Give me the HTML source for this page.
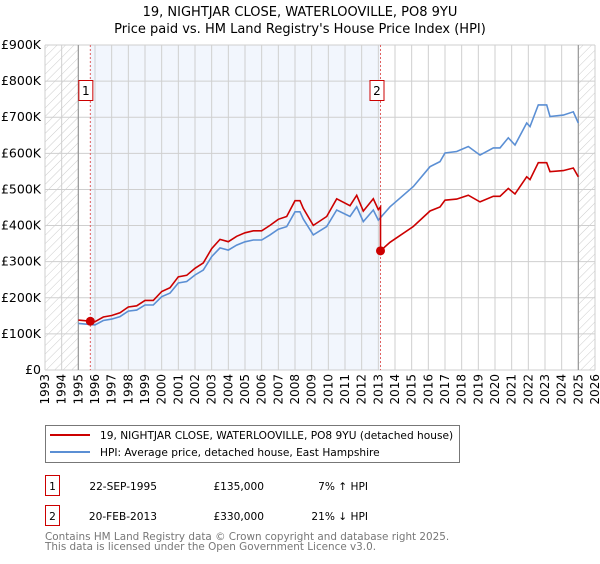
<!DOCTYPE html>
<html><head><meta charset="utf-8"><style>
body{margin:0;background:#fff;font-family:"DejaVu Sans","Liberation Sans",sans-serif;}
svg text{font-family:"DejaVu Sans","Liberation Sans",sans-serif;}
</style></head><body>
<svg id="chart" width="600" height="560" xmlns="http://www.w3.org/2000/svg">
<defs><pattern id="hatch" width="6" height="6" patternUnits="userSpaceOnUse" patternTransform="rotate(45)"><line x1="0" y1="0" x2="0" y2="6" stroke="#ccc" stroke-width="1"/></pattern></defs>
<text x="300" y="16" text-anchor="middle" font-size="13">19, NIGHTJAR CLOSE, WATERLOOVILLE, PO8 9YU</text>
<text x="300" y="33" text-anchor="middle" font-size="13">Price paid vs. HM Land Registry's House Price Index (HPI)</text>
<g id="plot"></g>
<g>
<rect x="45.5" y="425.5" width="414" height="37" fill="#fff" stroke="#777"/>
<line x1="50" y1="435" x2="90" y2="435" stroke="#cc0000" stroke-width="2"/>
<text x="100" y="439" font-size="10.6">19, NIGHTJAR CLOSE, WATERLOOVILLE, PO8 9YU (detached house)</text>
<line x1="50" y1="452" x2="90" y2="452" stroke="#5b8fd4" stroke-width="2"/>
<text x="100" y="456" font-size="10.6">HPI: Average price, detached house, East Hampshire</text>
</g>
<g font-size="10.6">
<rect x="45.5" y="475.5" width="14" height="20" fill="#fff" stroke="#cc0000"/>
<text x="52.5" y="490" text-anchor="middle">1</text>
<text x="157" y="490" text-anchor="end">22-SEP-1995</text>
<text x="264" y="490" text-anchor="end">£135,000</text>
<text x="368" y="490" text-anchor="end">7% ↑ HPI</text>
<rect x="45.5" y="505.5" width="14" height="20" fill="#fff" stroke="#cc0000"/>
<text x="52.5" y="520" text-anchor="middle">2</text>
<text x="157" y="520" text-anchor="end">20-FEB-2013</text>
<text x="264" y="520" text-anchor="end">£330,000</text>
<text x="368" y="520" text-anchor="end">21% ↓ HPI</text>
</g>
<text x="45" y="540" font-size="10.4" fill="#777">Contains HM Land Registry data © Crown copyright and database right 2025.</text>
<text x="45" y="550" font-size="10.4" fill="#777">This data is licensed under the Open Government Licence v3.0.</text>
</svg>
<script>
const hpiYears=[1995.0,1996.0,1996.5,1997,1997.5,1998,1998.5,1999,1999.5,2000,2000.5,2001,2001.5,2002,2002.5,2003,2003.5,2004,2004.5,2005,2005.5,2006,2006.5,2007,2007.5,2008,2008.3,2008.5,2009.1,2009.9,2010.5,2011.3,2011.7,2012.1,2012.7,2013.0,2013.7,2015.1,2016.1,2016.7,2017.0,2017.7,2018.4,2019.1,2019.9,2020.3,2020.8,2021.2,2021.9,2022.1,2022.6,2023.1,2023.3,2024.1,2024.7,2025.0];
const hpiValues=[129,125,137,141,148,163,166,180,180,203,213,241,245,263,277,314,338,332,346,355,360,360,374,390,397,438,438,418,374,397,443,425,452,411,443,415,452,508,563,577,601,605,619,595,615,615,643,623,684,674,734,734,702,706,715,684];
const saleYears=[1995.72,2013.13];
const salePrices=[135,330];
const saleLabels=["1","2"];
const yTicks=[0,100,200,300,400,500,600,700,800,900];
const yTickLabels=["£0","£100K","£200K","£300K","£400K","£500K","£600K","£700K","£800K","£900K"];
const xStart=1993,xEnd=2026;
const L=45,R=595,T=45,B=370;
const x=t=>L+(t-xStart)/(xEnd-xStart)*(R-L);
const y=v=>B-v/900*(B-T);
const NS="http://www.w3.org/2000/svg";
const g=document.getElementById('plot');
function mk(tag,attrs){const e=document.createElementNS(NS,tag);for(const k in attrs)e.setAttribute(k,attrs[k]);g.appendChild(e);return e;}
function hpiAt(t){for(let i=0;i<hpiYears.length-1;i++){if(t>=hpiYears[i]&&t<=hpiYears[i+1]){const f=(t-hpiYears[i])/(hpiYears[i+1]-hpiYears[i]);return hpiValues[i]+f*(hpiValues[i+1]-hpiValues[i]);}}return hpiValues[hpiValues.length-1];}
let e;
e=mk('rect',{x:L,y:T,width:R-L,height:B-T,fill:'#fff'});


e=mk('rect',{x:x(saleYears[0]),y:T,width:x(saleYears[1])-x(saleYears[0]),height:B-T,fill:'#f2f6fd'});


e=mk('rect',{x:L,y:T,width:x(1995)-L,height:B-T,fill:'url(#hatch)'});


e=mk('rect',{x:x(2025),y:T,width:R-x(2025),height:B-T,fill:'url(#hatch)'});


for(let yr=xStart;yr<=xEnd;yr++){
 e=mk('line',{x1:x(yr),x2:x(yr),y1:T,y2:B,stroke:'#cfcfcf','stroke-width':1});
 
 
 e=mk('text',{x:0,y:0,'font-size':12,'text-anchor':'end',transform:`translate(${x(yr)+4},${B+4}) rotate(-90)`});
 e.textContent=yr;
 
 
}
yTicks.forEach((v,i)=>{
 e=mk('line',{x1:L,x2:R,y1:y(v),y2:y(v),stroke:'#cfcfcf','stroke-width':1});
 
 
 e=mk('text',{x:L-4,y:y(v)+4,'font-size':12.5,'text-anchor':'end'});
 e.textContent=yTickLabels[i];
 
 
});
[1995,2025].forEach(t=>{e=mk('line',{x1:x(t),x2:x(t),y1:T,y2:B,stroke:'#999','stroke-width':1.2});
 
 });
saleYears.forEach((t,i)=>{
 e=mk('line',{x1:x(t),x2:x(t),y1:T,y2:B,stroke:'#e06060','stroke-width':1,'stroke-dasharray':'2,2'});
 
 
});
let d=hpiValues.map((v,i)=>(i?'L':'M')+x(hpiYears[i]).toFixed(1)+','+y(v).toFixed(1)).join('');
e=mk('path',{d:d,fill:'none',stroke:'#5b8fd4','stroke-width':1.6});


const r1=salePrices[0]/hpiAt(saleYears[0]), r2=salePrices[1]/hpiAt(saleYears[1]);
let pts=[];
hpiYears.forEach((t,i)=>{if(t<saleYears[1])pts.push([t,hpiValues[i]*r1]);});
pts.push([saleYears[1],hpiAt(saleYears[1])*r1]);
pts.push([saleYears[1],salePrices[1]]);
hpiYears.forEach((t,i)=>{if(t>saleYears[1])pts.push([t,hpiValues[i]*r2]);});
d=pts.map((p,i)=>(i?'L':'M')+x(p[0]).toFixed(1)+','+y(p[1]).toFixed(1)).join('');
e=mk('path',{d:d,fill:'none',stroke:'#cc0000','stroke-width':1.6});


saleYears.forEach((t,i)=>{
 e=mk('circle',{cx:x(t),cy:y(salePrices[i]),r:4.5,fill:'#cc0000'});
 
 
 e=mk('rect',{x:(i===0?x(1995)+0.5:x(t)-10.5),y:80.5,width:14,height:20,fill:'#fff',stroke:'#cc0000'});
 
 
 e=mk('text',{x:(i===0?x(1995)+7.5:x(t)-3.5),y:95,'font-size':12,'text-anchor':'middle'});
 e.textContent=saleLabels[i];
 
 
});
</script>
</body></html>
